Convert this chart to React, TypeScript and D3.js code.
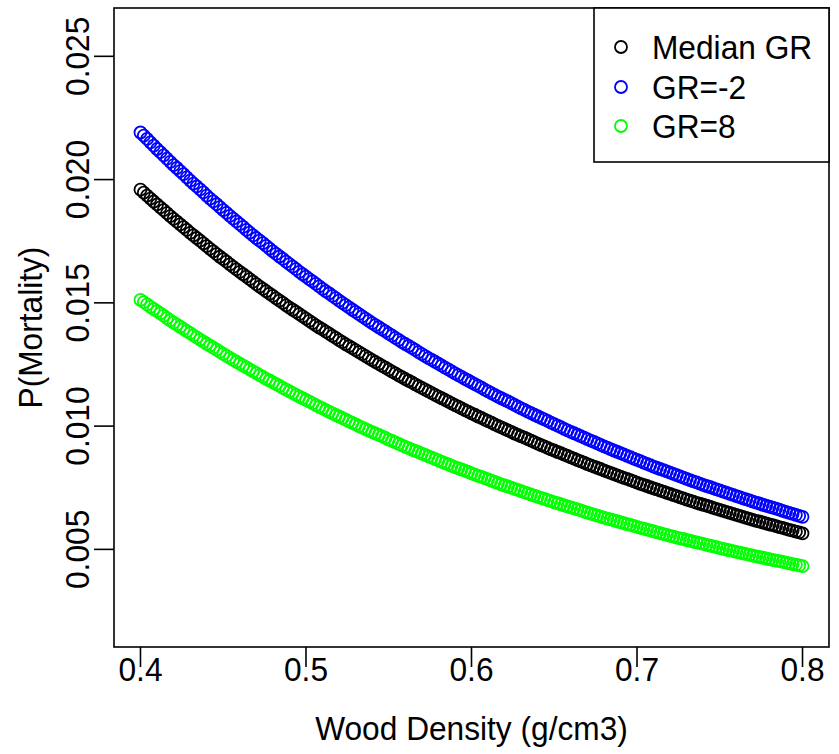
import React from "react";
import * as d3 from "d3";

// Wood density grid (g/cm3): 0.400 .. 0.800 by 0.002
const WD_FROM = 0.4;
const WD_TO = 0.8;
const WD_STEP = 0.002;
const woodDensity: number[] = d3.range(0, 201).map((i) => +(WD_FROM + i * WD_STEP).toFixed(3));

// P(Mortality), one value per wood-density point
const medianGR: number[] = [
  0.01959, 0.01947, 0.01935, 0.01923, 0.01911, 0.01899, 0.01887, 0.01876, 0.01864, 0.01852,
  0.01841, 0.01829, 0.01818, 0.01807, 0.01796, 0.01784, 0.01774, 0.01763, 0.01752, 0.01741,
  0.01730, 0.01719, 0.01709, 0.01698, 0.01687, 0.01677, 0.01667, 0.01656, 0.01646, 0.01636,
  0.01626, 0.01616, 0.01606, 0.01596, 0.01586, 0.01576, 0.01566, 0.01557, 0.01547, 0.01537,
  0.01528, 0.01518, 0.01509, 0.01500, 0.01490, 0.01481, 0.01472, 0.01463, 0.01454, 0.01445,
  0.01436, 0.01427, 0.01418, 0.01409, 0.01400, 0.01392, 0.01383, 0.01375, 0.01366, 0.01358,
  0.01349, 0.01341, 0.01332, 0.01324, 0.01316, 0.01308, 0.01300, 0.01292, 0.01284, 0.01276,
  0.01268, 0.01260, 0.01252, 0.01244, 0.01237, 0.01229, 0.01221, 0.01214, 0.01206, 0.01199,
  0.01191, 0.01184, 0.01177, 0.01169, 0.01162, 0.01155, 0.01148, 0.01141, 0.01134, 0.01127,
  0.01120, 0.01113, 0.01106, 0.01099, 0.01092, 0.01085, 0.01079, 0.01072, 0.01065, 0.01059,
  0.01052, 0.01046, 0.01039, 0.01033, 0.01026, 0.01020, 0.01014, 0.01007, 0.01001, 0.00995,
  0.00989, 0.00983, 0.00977, 0.00970, 0.00964, 0.00958, 0.00953, 0.00947, 0.00941, 0.00935,
  0.00929, 0.00923, 0.00918, 0.00912, 0.00906, 0.00901, 0.00895, 0.00890, 0.00884, 0.00879,
  0.00873, 0.00868, 0.00862, 0.00857, 0.00852, 0.00846, 0.00841, 0.00836, 0.00831, 0.00826,
  0.00820, 0.00815, 0.00810, 0.00805, 0.00800, 0.00795, 0.00790, 0.00786, 0.00781, 0.00776,
  0.00771, 0.00766, 0.00762, 0.00757, 0.00752, 0.00747, 0.00743, 0.00738, 0.00734, 0.00729,
  0.00725, 0.00720, 0.00716, 0.00711, 0.00707, 0.00702, 0.00698, 0.00694, 0.00689, 0.00685,
  0.00681, 0.00677, 0.00673, 0.00668, 0.00664, 0.00660, 0.00656, 0.00652, 0.00648, 0.00644,
  0.00640, 0.00636, 0.00632, 0.00628, 0.00624, 0.00620, 0.00616, 0.00613, 0.00609, 0.00605,
  0.00601, 0.00598, 0.00594, 0.00590, 0.00587, 0.00583, 0.00579, 0.00576, 0.00572, 0.00569,
  0.00565,
];

const grMinus2: number[] = [
  0.02191, 0.02178, 0.02165, 0.02151, 0.02138, 0.02124, 0.02111, 0.02098, 0.02085, 0.02072,
  0.02059, 0.02047, 0.02034, 0.02022, 0.02009, 0.01996, 0.01984, 0.01972, 0.01960, 0.01948,
  0.01935, 0.01923, 0.01912, 0.01900, 0.01888, 0.01876, 0.01865, 0.01853, 0.01842, 0.01830,
  0.01819, 0.01808, 0.01796, 0.01785, 0.01774, 0.01763, 0.01752, 0.01742, 0.01731, 0.01720,
  0.01709, 0.01699, 0.01688, 0.01678, 0.01667, 0.01657, 0.01647, 0.01637, 0.01626, 0.01616,
  0.01606, 0.01596, 0.01587, 0.01577, 0.01567, 0.01557, 0.01547, 0.01538, 0.01528, 0.01519,
  0.01509, 0.01500, 0.01491, 0.01482, 0.01472, 0.01463, 0.01454, 0.01445, 0.01436, 0.01427,
  0.01418, 0.01410, 0.01401, 0.01392, 0.01384, 0.01375, 0.01367, 0.01358, 0.01350, 0.01341,
  0.01333, 0.01325, 0.01317, 0.01309, 0.01300, 0.01292, 0.01284, 0.01276, 0.01269, 0.01261,
  0.01253, 0.01245, 0.01237, 0.01230, 0.01222, 0.01214, 0.01207, 0.01200, 0.01192, 0.01185,
  0.01177, 0.01170, 0.01163, 0.01156, 0.01148, 0.01141, 0.01134, 0.01127, 0.01120, 0.01113,
  0.01106, 0.01100, 0.01093, 0.01086, 0.01079, 0.01072, 0.01066, 0.01059, 0.01053, 0.01046,
  0.01040, 0.01033, 0.01027, 0.01021, 0.01014, 0.01008, 0.01002, 0.00996, 0.00989, 0.00983,
  0.00977, 0.00971, 0.00965, 0.00959, 0.00953, 0.00947, 0.00941, 0.00936, 0.00930, 0.00924,
  0.00918, 0.00913, 0.00907, 0.00901, 0.00896, 0.00890, 0.00885, 0.00879, 0.00874, 0.00868,
  0.00863, 0.00858, 0.00852, 0.00847, 0.00842, 0.00836, 0.00831, 0.00826, 0.00821, 0.00816,
  0.00811, 0.00806, 0.00801, 0.00796, 0.00791, 0.00786, 0.00781, 0.00776, 0.00772, 0.00767,
  0.00762, 0.00757, 0.00753, 0.00748, 0.00743, 0.00739, 0.00734, 0.00730, 0.00725, 0.00721,
  0.00716, 0.00712, 0.00707, 0.00703, 0.00699, 0.00694, 0.00690, 0.00686, 0.00681, 0.00677,
  0.00673, 0.00669, 0.00665, 0.00661, 0.00656, 0.00652, 0.00648, 0.00644, 0.00640, 0.00636,
  0.00632,
];

const gr8: number[] = [
  0.01512, 0.01503, 0.01494, 0.01484, 0.01475, 0.01466, 0.01457, 0.01448, 0.01438, 0.01429,
  0.01420, 0.01412, 0.01403, 0.01394, 0.01385, 0.01377, 0.01368, 0.01360, 0.01351, 0.01343,
  0.01334, 0.01326, 0.01318, 0.01310, 0.01301, 0.01293, 0.01285, 0.01277, 0.01269, 0.01261,
  0.01253, 0.01245, 0.01238, 0.01230, 0.01222, 0.01215, 0.01207, 0.01200, 0.01192, 0.01185,
  0.01177, 0.01170, 0.01163, 0.01155, 0.01148, 0.01141, 0.01134, 0.01127, 0.01120, 0.01113,
  0.01106, 0.01099, 0.01092, 0.01085, 0.01078, 0.01072, 0.01065, 0.01058, 0.01052, 0.01045,
  0.01039, 0.01032, 0.01026, 0.01019, 0.01013, 0.01007, 0.01000, 0.00994, 0.00988, 0.00982,
  0.00976, 0.00970, 0.00964, 0.00958, 0.00952, 0.00945, 0.00940, 0.00934, 0.00928, 0.00922,
  0.00916, 0.00911, 0.00905, 0.00899, 0.00894, 0.00888, 0.00883, 0.00877, 0.00872, 0.00866,
  0.00861, 0.00855, 0.00850, 0.00845, 0.00839, 0.00834, 0.00829, 0.00824, 0.00819, 0.00814,
  0.00808, 0.00803, 0.00798, 0.00794, 0.00789, 0.00784, 0.00779, 0.00774, 0.00769, 0.00764,
  0.00759, 0.00755, 0.00750, 0.00745, 0.00741, 0.00736, 0.00731, 0.00727, 0.00722, 0.00718,
  0.00713, 0.00709, 0.00705, 0.00700, 0.00696, 0.00691, 0.00687, 0.00683, 0.00678, 0.00674,
  0.00670, 0.00666, 0.00662, 0.00658, 0.00653, 0.00649, 0.00645, 0.00641, 0.00637, 0.00633,
  0.00629, 0.00625, 0.00622, 0.00618, 0.00614, 0.00610, 0.00606, 0.00602, 0.00599, 0.00595,
  0.00591, 0.00587, 0.00584, 0.00580, 0.00577, 0.00573, 0.00569, 0.00566, 0.00562, 0.00559,
  0.00555, 0.00552, 0.00548, 0.00545, 0.00542, 0.00538, 0.00535, 0.00531, 0.00528, 0.00525,
  0.00522, 0.00518, 0.00515, 0.00512, 0.00509, 0.00505, 0.00502, 0.00499, 0.00496, 0.00493,
  0.00490, 0.00487, 0.00484, 0.00481, 0.00478, 0.00475, 0.00472, 0.00469, 0.00466, 0.00463,
  0.00460, 0.00457, 0.00454, 0.00452, 0.00449, 0.00446, 0.00443, 0.00440, 0.00438, 0.00435,
  0.00432,
];

const seriesNames = ["Median GR", "GR=-2", "GR=8"];
const seriesColors = ["#000000", "#0000FF", "#00FF00"];
const seriesValues = [medianGR, grMinus2, gr8];

const xTicks = [0.4, 0.5, 0.6, 0.7, 0.8];
const yTicks = [0.005, 0.01, 0.015, 0.02, 0.025];
const yLimits = [0.002, 0.026];
const xLabel = "Wood Density (g/cm3)";
const yLabel = "P(Mortality)";

const W = 839;
const H = 754;
const box = { left: 114, right: 829, top: 8, bottom: 647 };
const FONT = "'Liberation Sans', Arial, Helvetica, sans-serif";
const FS = 33;
const SX = 0.96;

export default function App() {
  const xPad = (WD_TO - WD_FROM) * 0.04;
  const yPad = (yLimits[1] - yLimits[0]) * 0.04;
  const x = d3.scaleLinear().domain([WD_FROM - xPad, WD_TO + xPad]).range([box.left, box.right]);
  const y = d3.scaleLinear().domain([yLimits[0] - yPad, yLimits[1] + yPad]).range([box.bottom, box.top]);
  const tickLen = 20;
  const lw = 1.6;

  const txt = (s: string, tx: number, ty: number, anchor: string, rot = 0, key?: string) => (
    <text
      key={key}
      transform={`translate(${tx},${ty})${rot ? ` rotate(${rot})` : ""} scale(${SX},1)`}
      textAnchor={anchor}
      fontFamily={FONT}
      fontSize={FS}
      fill="#000"
    >
      {s}
    </text>
  );

  const legend = { left: 594, right: 829, top: 8, bottom: 162, cx: 621, tx: 652, rows: [47, 87, 126] };

  return (
    <svg width={W} height={H} style={{ position: "absolute", left: 0, top: 0, background: "#fff" }}>
      <rect x={0} y={0} width={W} height={H} fill="#fff" />
      {seriesValues.map((vals, si) => (
        <g key={si} fill="none" stroke={seriesColors[si]} strokeWidth={1.8}>
          {vals.map((v, i) => (
            <circle key={i} cx={x(woodDensity[i])} cy={y(v)} r={6} />
          ))}
        </g>
      ))}
      <rect
        x={box.left}
        y={box.top}
        width={box.right - box.left}
        height={box.bottom - box.top}
        fill="none"
        stroke="#000"
        strokeWidth={lw}
      />
      {xTicks.map((t) => (
        <g key={"xt" + t}>
          <line x1={x(t)} x2={x(t)} y1={box.bottom} y2={box.bottom + tickLen} stroke="#000" strokeWidth={lw} />
          {txt(d3.format(".1f")(t), x(t), 681, "middle")}
        </g>
      ))}
      {yTicks.map((t) => (
        <g key={"yt" + t}>
          <line x1={box.left - tickLen} x2={box.left} y1={y(t)} y2={y(t)} stroke="#000" strokeWidth={lw} />
          {txt(d3.format(".3f")(t), 89, y(t), "middle", -90)}
        </g>
      ))}
      {txt(xLabel, (box.left + box.right) / 2, 740, "middle")}
      {txt(yLabel, 42, (box.top + box.bottom) / 2, "middle", -90)}
      <rect
        x={legend.left}
        y={legend.top}
        width={legend.right - legend.left}
        height={legend.bottom - legend.top}
        fill="#fff"
        stroke="#000"
        strokeWidth={lw}
      />
      {seriesNames.map((n, i) => (
        <g key={"lg" + i}>
          <circle cx={legend.cx} cy={legend.rows[i]} r={6} fill="none" stroke={seriesColors[i]} strokeWidth={1.8} />
          {txt(n, legend.tx, legend.rows[i] + 12, "start")}
        </g>
      ))}
    </svg>
  );
}
